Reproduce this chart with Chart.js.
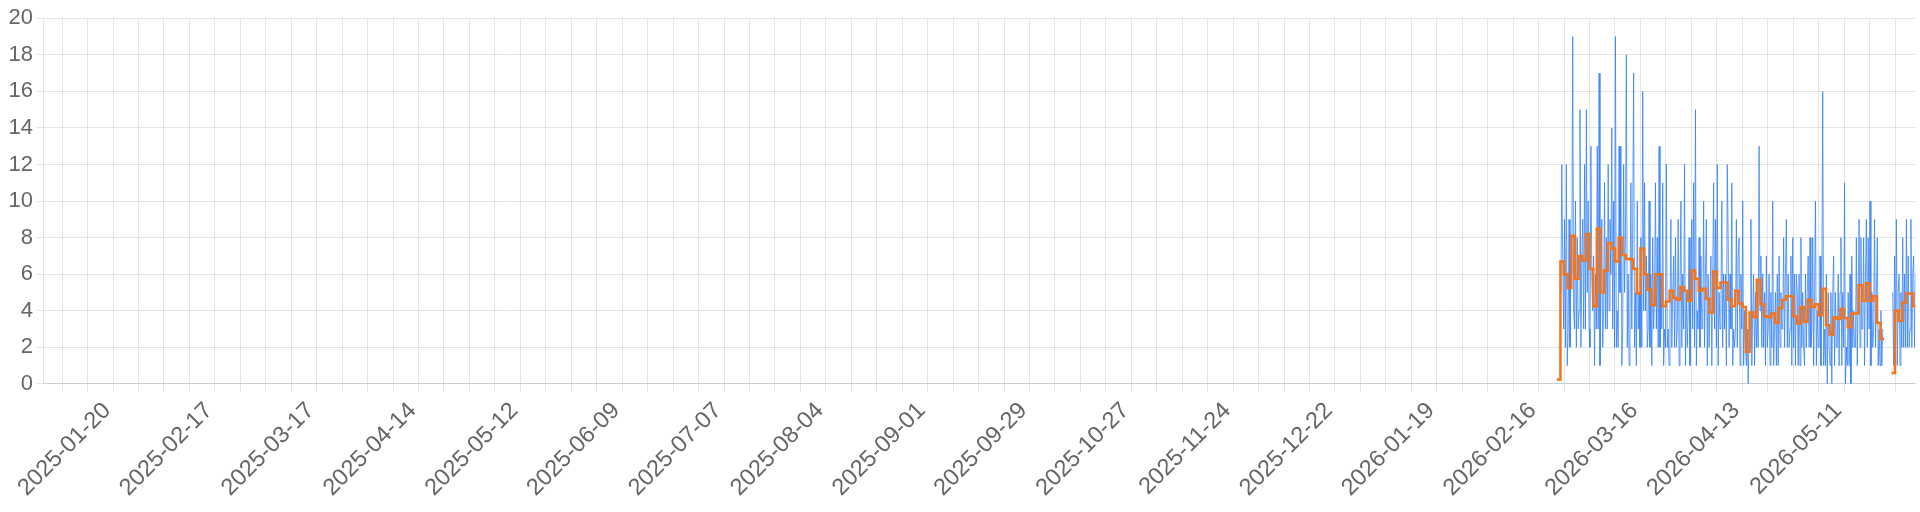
<!DOCTYPE html>
<html>
<head>
<meta charset="utf-8">
<script src="https://cdn.jsdelivr.net/npm/chart.js@4.4.1/dist/chart.umd.min.js"></script>
<style>
  html, body { margin: 0; padding: 0; background: #ffffff; }
  #wrap { width: 1920px; height: 512px; position: relative; }
</style>
</head>
<body>
<div id="wrap"><canvas id="chart"></canvas></div>
<script>
// ---- axis range and ticks ----
const axisStartDate = '2025-01-01';
const axisEndDay = 514.6;              // days after axisStartDate (2026-05-30, afternoon)
const firstWeekTick = '2025-01-06';    // weekly grid lines (Mondays)
const firstLabelTick = '2025-01-20';   // a label every 4 weeks from here
const labelEveryWeeks = 4;
const yMin = 0;
const yMax = 20;
const yStep = 2;

// ---- daily mean (orange, stepped), one value per day from dailyStart ----
const dailyStart = '2026-02-21';
const dailyMean = [
  0.24, 6.7, 6.0, 5.25, 8.1, 5.75, 7.0,
  6.75, 8.2, 6.3, 4.25, 8.5, 5.0, 6.2,
  7.7, 7.4, 6.7, 8.0, 7.05, 6.85, 6.8,
  6.3, 4.95, 7.4, 6.0, 5.15, 4.3, 6.0,
  6.0, 4.25, 4.5, 5.1, 4.7, 4.6, 5.3,
  5.1, 4.55, 6.2, 5.75, 5.1, 5.2, 4.65,
  3.9, 6.15, 5.25, 5.55, 5.55, 4.6, 4.25,
  5.1, 4.4, 4.2, 1.75, 3.9, 3.65, 5.7,
  4.35, 3.7, 3.65, 3.85, 3.35, 4.15, 4.6,
  4.8, 4.8, 3.7, 3.3, 4.2, 3.4, 4.6,
  4.2, 4.35, 3.75, 5.2, 3.2, 2.7, 3.65,
  3.55, 4.1, 3.6, 3.1, 3.85, 3.85, 5.4,
  4.55, 5.5, 4.55, 4.8, 3.35, 2.45, null,
  null, 0.6, 4.0, 3.45, 4.45, 4.95, 4.95,
  4.25
];

// ---- samples (blue), samplesPerDay values per day from sampleStart ----
const sampleStart = '2026-02-22';
const samplesPerDay = 4;
const sampleValues = [
  5,12,7,3,  9,2,12,1,  3,9,2,7,  6,19,4,3,  10,2,8,3,  4,15,2,7,  9,3,12,3,
  15,5,10,3, 2,13,6,4,  7,1,6,3,  13,3,17,1, 5,9,2,4,   11,3,8,3,  12,4,9,6,
  14,3,10,2, 19,2,4,2,  13,5,13,1, 3,12,5,8, 18,2,6,1,  4,11,3,9,  17,2,5,1,
  10,3,5,2,  8,2,16,4,  11,4,7,2, 3,10,2,6,  1,8,3,5,   11,3,8,2,  13,2,6,3,
  11,1,3,2,  12,2,3,1,  4,9,2,5,  7,2,8,2,   3,9,1,5,   10,2,6,3,  12,1,5,2,
  4,8,1,5,   9,3,11,2,  15,1,4,3, 8,2,7,3,   3,10,2,6,  9,1,6,2,   2,7,1,6,
  11,3,9,2,  12,1,5,3,  4,10,2,6, 3,6,1,12,  8,2,6,3,   11,1,3,2,  3,9,2,7,
  8,1,6,3,   10,1,4,2,  1,3,0,3,  2,9,1,4,   6,1,5,2,   4,2,13,4,  7,2,6,2,
  5,1,7,2,   3,6,1,5,   2,10,1,3, 5,1,6,1,   7,2,5,3,   3,8,2,6,   9,2,6,2,
  3,7,1,8,   2,6,1,6,   5,1,6,1,  8,2,5,2,   1,6,2,5,   7,2,8,2,   3,8,1,5,
  10,1,4,2,  2,7,1,5,   16,1,3,1, 6,0,5,2,   1,5,0,5,   7,1,5,2,   2,6,1,5,
  8,1,5,2,   11,0,2,1,  5,1,6,0,  7,2,4,2,   2,8,1,5,   9,2,8,3,   3,8,1,6,
  9,2,8,3,   10,1,5,2,  3,9,2,5,  8,1,3,1,   4,1,3,null, null,null,null,null, null,null,null,null,
  null,5,1,7, 2,9,1,5,  6,1,5,2,  8,2,6,2,   9,2,7,2,   3,9,2,6,   7,2,6,2
];

// ---- helpers ----
const DAY_MS = 86400000;
const baseMs = Date.parse(axisStartDate + 'T00:00:00Z');
function dayIndex(s) { return Math.round((Date.parse(s + 'T00:00:00Z') - baseMs) / DAY_MS); }
function dayLabel(d) { return new Date(baseMs + Math.round(d) * DAY_MS).toISOString().slice(0, 10); }

const weekTicks = [];
for (let d = dayIndex(firstWeekTick); d <= axisEndDay; d += 7) weekTicks.push(d);
const labelStartDay = dayIndex(firstLabelTick);

// orange stepped points: value holds from the day start until the next day
const dStart = dayIndex(dailyStart);
const meanPoints = [];
dailyMean.forEach((v, i) => {
  const d = dStart + i;
  meanPoints.push({ x: d, y: v });
  const next = dailyMean[i + 1];
  if (v !== null && (next === undefined || next === null)) meanPoints.push({ x: d + 1, y: v });
});

// blue points
const sStart = dayIndex(sampleStart);
const samplePoints = sampleValues.map((v, i) => ({ x: sStart + (i + 0.5) / samplesPerDay, y: v }));

const FONT = "'Liberation Sans', Arial, Helvetica, sans-serif";

new Chart(document.getElementById('chart'), {
  type: 'line',
  data: {
    datasets: [
      {
        label: 'Daily mean',
        data: meanPoints,
        stepped: 'before',
        borderColor: '#f97316',
        backgroundColor: '#f97316',
        borderWidth: 2.5,
        pointRadius: 0,
        fill: false,
        spanGaps: false,
        order: 0
      },
      {
        label: 'Count',
        data: samplePoints,
        borderColor: 'rgba(45,125,245,0.75)',
        backgroundColor: 'rgba(45,125,245,0.75)',
        borderWidth: 1,
        pointRadius: 0,
        tension: 0,
        fill: false,
        spanGaps: false,
        order: 1
      }
    ]
  },
  options: {
    responsive: true,
    maintainAspectRatio: false,
    devicePixelRatio: 1,
    animation: false,
    events: [],
    layout: { padding: { left: 5.5, top: 18.3, right: 4.3, bottom: 5.2 } },
    plugins: {
      legend: { display: false },
      tooltip: { enabled: false },
      title: { display: false }
    },
    scales: {
      x: {
        type: 'linear',
        min: 0,
        max: axisEndDay,
        afterBuildTicks: (scale) => { scale.ticks = weekTicks.map(v => ({ value: v })); },
        ticks: {
          autoSkip: false,
          minRotation: 45,
          maxRotation: 45,
          padding: 5,
          labelOffset: -6,
          color: '#666',
          font: { family: FONT, size: 23.5 },
          callback: (value) => {
            const k = value - labelStartDay;
            return (k >= 0 && k % (7 * labelEveryWeeks) === 0) ? dayLabel(value) : '';
          }
        },
        grid: { color: 'rgba(0,0,0,0.1)' }
      },
      y: {
        min: yMin,
        max: yMax,
        ticks: { stepSize: yStep, color: '#666', font: { family: FONT, size: 22 } },
        grid: { color: 'rgba(0,0,0,0.1)' }
      }
    }
  }
});
</script>
</body>
</html>
